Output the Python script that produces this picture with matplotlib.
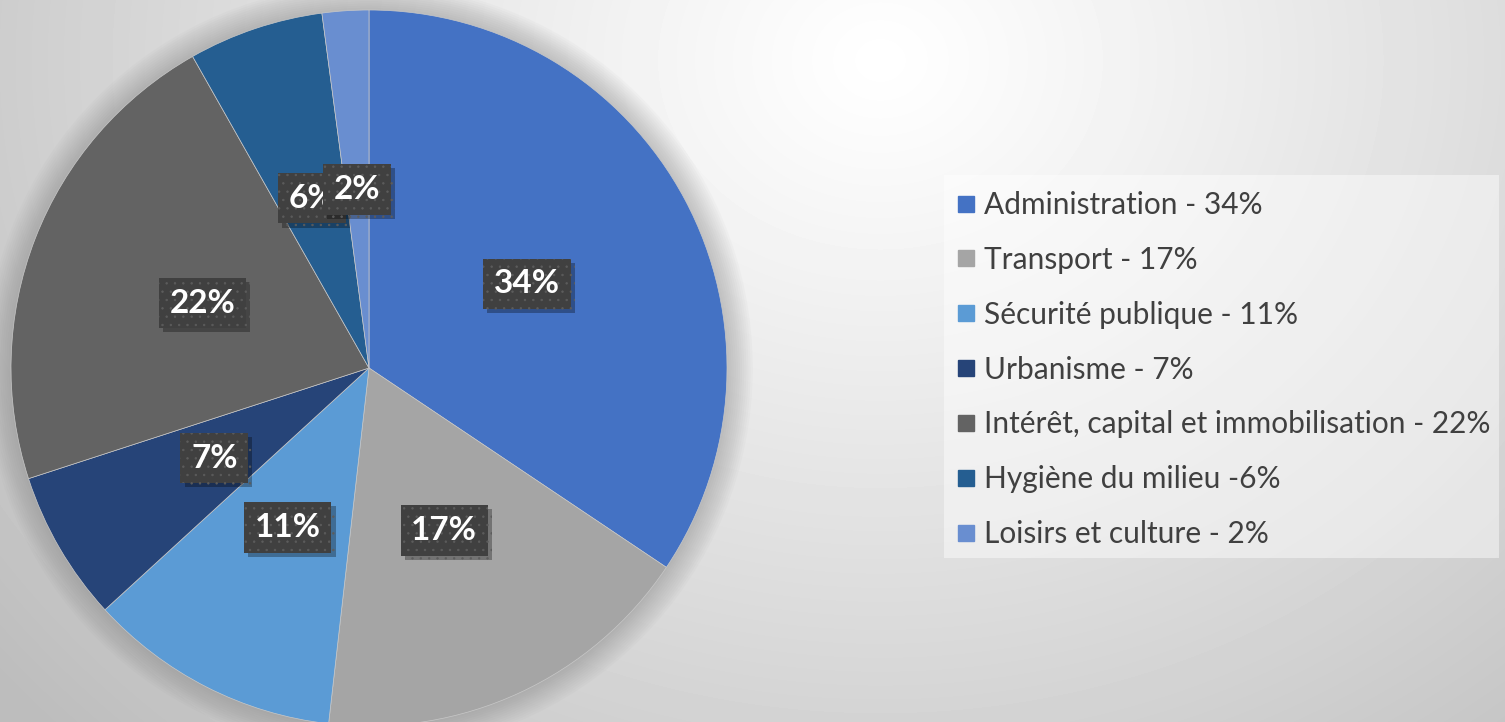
import numpy as np
import matplotlib
matplotlib.use("Agg")
import matplotlib.pyplot as plt
import matplotlib.patheffects as pe
from matplotlib.patches import Rectangle, Circle
from matplotlib.lines import Line2D

plt.rcParams['font.family'] = ['Lato', 'DejaVu Sans']
plt.rcParams['hatch.linewidth'] = 0.5

# data (angles of the wedges), labels as printed
categories = ['Administration', 'Transport', 'Sécurité publique', 'Urbanisme',
              'Intérêt, capital et immobilisation', 'Hygiène du milieu', 'Loisirs et culture']
shares = [34.4, 17.4, 11.4, 6.8, 21.8, 6.1, 2.1]
pct_labels = ['34%', '17%', '11%', '7%', '22%', '6%', '2%']
legend_labels = ['Administration - 34%', 'Transport - 17%', 'Sécurité publique - 11%',
                 'Urbanisme - 7%', 'Intérêt, capital et immobilisation - 22%',
                 'Hygiène du milieu -6%', 'Loisirs et culture - 2%']
colors = ['#4472C4', '#A5A5A5', '#5B9BD5', '#264478', '#636363', '#255E91', '#698ED0']

W, H = 1505, 722
fig = plt.figure(figsize=(W / 100, H / 100), dpi=100)

# background radial gradient
bg = fig.add_axes([0, 0, 1, 1], zorder=-10)
yy, xx = np.mgrid[0:H, 0:W]
d = np.sqrt(((xx - 880) / 1.0) ** 2 + ((yy - 60) / 0.85) ** 2)
g = np.clip(1.0 - 0.2 * (d / 900) ** 1.1, 0.74, 1.0)
bg.imshow(g, cmap='gray', vmin=0, vmax=1, extent=[0, W, H, 0], aspect='auto')
bg.set_xlim(0, W)
bg.set_ylim(H, 0)
bg.axis('off')

# pie
cx, cy, r = 369, 368, 358
ax = fig.add_axes([(cx - r) / W, (H - cy - r) / H, 2 * r / W, 2 * r / H])

wedges, _ = ax.pie(shares, colors=colors, startangle=90, counterclock=False,
                   radius=1.0, wedgeprops=dict(linewidth=0.5, edgecolor='#c8c8c8'))
for w in wedges:
    w.set_zorder(1)
ax.set_xlim(-1, 1)
ax.set_ylim(-1, 1)
ax.set_aspect('equal')
ax.axis('off')

# soft glow around the pie
for i in range(12):
    ax.add_patch(Circle((0, 0), 1.0 + 0.006 * (i + 1), color='#7a7a7a',
                        alpha=0.035, lw=0, zorder=0, clip_on=False))

for w, lab in zip(wedges, pct_labels):
    ang = np.deg2rad((w.theta1 + w.theta2) / 2)
    t = ax.text(0.5 * np.cos(ang), 0.5 * np.sin(ang), lab, ha='center', va='center',
                color='white', fontsize=24, fontweight='bold', zorder=5,
                bbox=dict(boxstyle='square,pad=0.32', facecolor='#404040',
                          edgecolor='#5c5c5c', hatch='..', linewidth=0))
    t.get_bbox_patch().set_path_effects([
        pe.SimplePatchShadow(offset=(3, -3), shadow_rgbFace='black', alpha=0.3),
        pe.Normal()])

# legend background
fig.patches.append(Rectangle((944 / W, 1 - 558 / H), (1499 - 944) / W, (558 - 175) / H,
                             transform=fig.transFigure, facecolor='white', alpha=0.45,
                             edgecolor='none', zorder=-5))

handles = [Line2D([], [], marker='s', linestyle='none', markersize=12,
                  markerfacecolor=c, markeredgecolor=c) for c in colors]
leg = fig.legend(handles, legend_labels, loc='upper left',
                 bbox_to_anchor=(957 / W, 1 - 191 / H), frameon=False,
                 fontsize=21.5, labelspacing=0.9, handlelength=0.6,
                 handletextpad=0.3, borderaxespad=0, borderpad=0)
for txt in leg.get_texts():
    txt.set_color('#404040')

fig.savefig('out.png', dpi=100)
